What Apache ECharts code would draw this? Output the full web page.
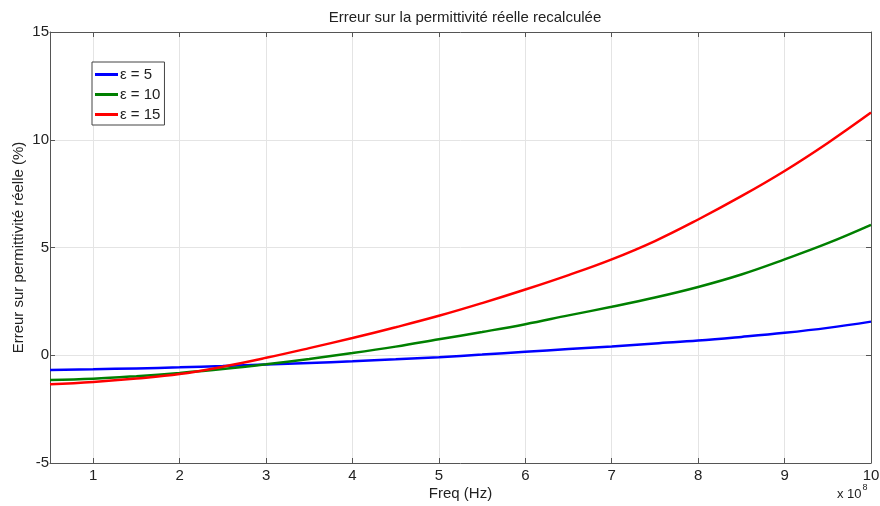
<!DOCTYPE html>
<html>
<head>
<meta charset="utf-8">
<script src="https://cdn.jsdelivr.net/npm/echarts@6/dist/echarts.min.js"></script>
<style>
  html, body { margin: 0; padding: 0; background: #fff; }
  #main { width: 880px; height: 506px; }
</style>
</head>
<body>
<div id="main"></div>
<script>
// frequences en unites de 1e8 Hz
var freq = [0.5, 1, 1.5, 2, 2.5, 3, 3.5, 4, 4.5, 5, 5.5, 6, 6.5, 7, 7.5, 8, 8.5, 9, 9.5, 10];
var eps5 = [-0.68, -0.65, -0.61, -0.56, -0.5, -0.43, -0.36, -0.28, -0.19, -0.09, 0.03, 0.16, 0.29, 0.41, 0.55, 0.68, 0.85, 1.04, 1.27, 1.56];
var eps10 = [-1.15, -1.09, -0.97, -0.82, -0.64, -0.42, -0.17, 0.1, 0.4, 0.74, 1.08, 1.44, 1.85, 2.25, 2.68, 3.17, 3.75, 4.45, 5.2, 6.05];
var eps15 = [-1.35, -1.24, -1.08, -0.87, -0.53, -0.12, 0.33, 0.8, 1.3, 1.83, 2.42, 3.05, 3.72, 4.45, 5.3, 6.3, 7.38, 8.55, 9.85, 11.26];
var seriesNames = ["ε = 5", "ε = 10", "ε = 15"];
var seriesColors = ["#0000ff", "#008000", "#ff0000"];

function pairs(ys) {
  return freq.map(function (x, i) { return [x, ys[i]]; });
}

var myChart = echarts.init(document.getElementById("main"));
var axisCol = "#555";
var fontFam = "Liberation Sans, Arial, sans-serif";
var labelStyle = { color: "#222", fontSize: 15, fontFamily: fontFam };

var option = {
  animation: false,
  backgroundColor: "#fff",
  title: {
    text: "Erreur sur la permittivité réelle recalculée",
    left: 460,
    top: 5,
    textAlign: "center",
    textStyle: { color: "#222", fontSize: 15, fontWeight: "normal", fontFamily: fontFam }
  },
  grid: { left: 50, top: 32, right: 9, bottom: 43, outerBoundsMode: "none", containLabel: false },
  legend: {
    orient: "vertical",
    left: 92,
    top: 62,
    backgroundColor: "#fff",
    borderColor: "#444",
    borderWidth: 1,
    padding: [5, 4, 3, 3],
    itemGap: 5,
    itemWidth: 23,
    itemHeight: 3,
    icon: "rect",
    textStyle: { color: "#222", fontSize: 15, fontFamily: fontFam, padding: [0, 0, 0, -3], lineHeight: 15 },
    data: seriesNames
  },
  xAxis: [
    {
      type: "value",
      min: 0.5,
      max: 10,
      splitNumber: 10,
      name: "Freq (Hz)",
      nameLocation: "middle",
      nameGap: 23,
      nameMoveOverlap: false,
      nameTextStyle: labelStyle,
      axisLine: { onZero: false, lineStyle: { color: axisCol } },
      axisTick: { inside: true, length: 5, lineStyle: { color: axisCol } },
      axisLabel: Object.assign({ showMinLabel: false, margin: 5 }, labelStyle),
      splitLine: { show: true, lineStyle: { color: "#e4e4e4", width: 1 } }
    },
    {
      type: "value",
      position: "top",
      min: 0.5,
      max: 10,
      splitNumber: 10,
      axisLine: { show: true, onZero: false, lineStyle: { color: axisCol } },
      axisTick: { inside: true, length: 5, lineStyle: { color: axisCol } },
      axisLabel: { show: false },
      splitLine: { show: false }
    }
  ],
  yAxis: [
    {
      type: "value",
      min: -5,
      max: 15,
      interval: 5,
      name: "Erreur sur permittivité réelle (%)",
      nameLocation: "middle",
      nameGap: 24,
      nameMoveOverlap: false,
      nameTextStyle: labelStyle,
      axisLine: { show: true, onZero: false, lineStyle: { color: axisCol } },
      axisTick: { show: true, inside: true, length: 5, lineStyle: { color: axisCol } },
      axisLabel: Object.assign({ margin: 1 }, labelStyle),
      splitLine: { show: true, lineStyle: { color: "#e4e4e4", width: 1 } }
    },
    {
      type: "value",
      position: "right",
      min: -5,
      max: 15,
      interval: 5,
      axisLine: { show: true, onZero: false, lineStyle: { color: axisCol } },
      axisTick: { show: true, inside: true, length: 5, lineStyle: { color: axisCol } },
      axisLabel: { show: false },
      splitLine: { show: false }
    }
  ],
  graphic: [
    {
      type: "text",
      left: 837,
      top: 483,
      style: {
        text: "{a|x 10}{b|8}",
        rich: {
          a: { fontSize: 13, fill: "#222", fontFamily: fontFam, padding: [7, 0, 0, 0] },
          b: { fontSize: 9, fill: "#222", fontFamily: fontFam, padding: [0, 0, 7, 1] }
        }
      }
    }
  ],
  series: [eps5, eps10, eps15].map(function (ys, i) {
    return {
      name: seriesNames[i],
      type: "line",
      data: pairs(ys),
      smooth: 0.4,
      symbol: "none",
      lineStyle: { width: 2.5, color: seriesColors[i] },
      itemStyle: { color: seriesColors[i] }
    };
  })
};

myChart.setOption(option);
</script>
</body>
</html>
